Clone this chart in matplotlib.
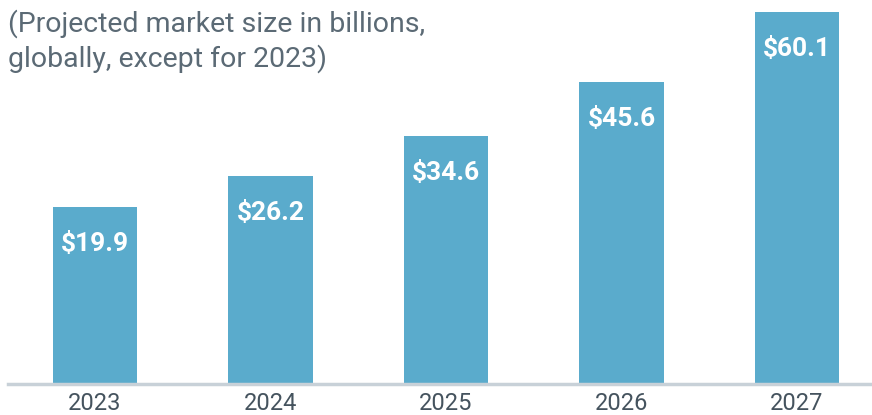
import numpy as np
import matplotlib.pyplot as plt

plt.rcParams['font.family'] = ['Roboto', 'DejaVu Sans']

years = ['2023', '2024', '2025', '2026', '2027']
values = [19.9, 26.2, 34.6, 45.6, 60.1]
labels = ['$19.9', '$26.2', '$34.6', '$45.6', '$60.1']

bar_color = '#5aabcc'
text_grey = '#45535e'

fig = plt.figure(figsize=(8.72, 4.15), dpi=100)
ax = fig.add_axes([8/872, 31/415, 864/872, 372/415])

x = np.arange(len(years))
floor = -16.7  # axis does not start at zero in the source chart
ax.bar(x, np.array(values) - floor, bottom=floor, width=0.48, color=bar_color, zorder=2)

for xi, v, lab in zip(x, values, labels):
    ax.annotate(lab, (xi, v), xytext=(0, -37), textcoords='offset pixels',
                ha='center', va='center', color='white', fontsize=19, fontweight='bold')

ax.set_xlim(-0.496, 4.427)
ax.set_ylim(floor, max(values))

for s in ['top', 'right', 'left']:
    ax.spines[s].set_visible(False)
ax.spines['bottom'].set_color('#c8d1d8')
ax.spines['bottom'].set_linewidth(2.5)
ax.spines['bottom'].set_zorder(3)
ax.set_yticks([])
ax.set_xticks(x)
ax.set_xticklabels(years, fontsize=17, color=text_grey)
ax.tick_params(axis='x', length=0, pad=6)

fig.text(8/872, 1 - 9/415, '(Projected market size in billions,\nglobally, except for 2023)',
         ha='left', va='top', fontsize=20.5, color='#5b6a75', linespacing=1.3)

fig.savefig('out.png', dpi=100)
